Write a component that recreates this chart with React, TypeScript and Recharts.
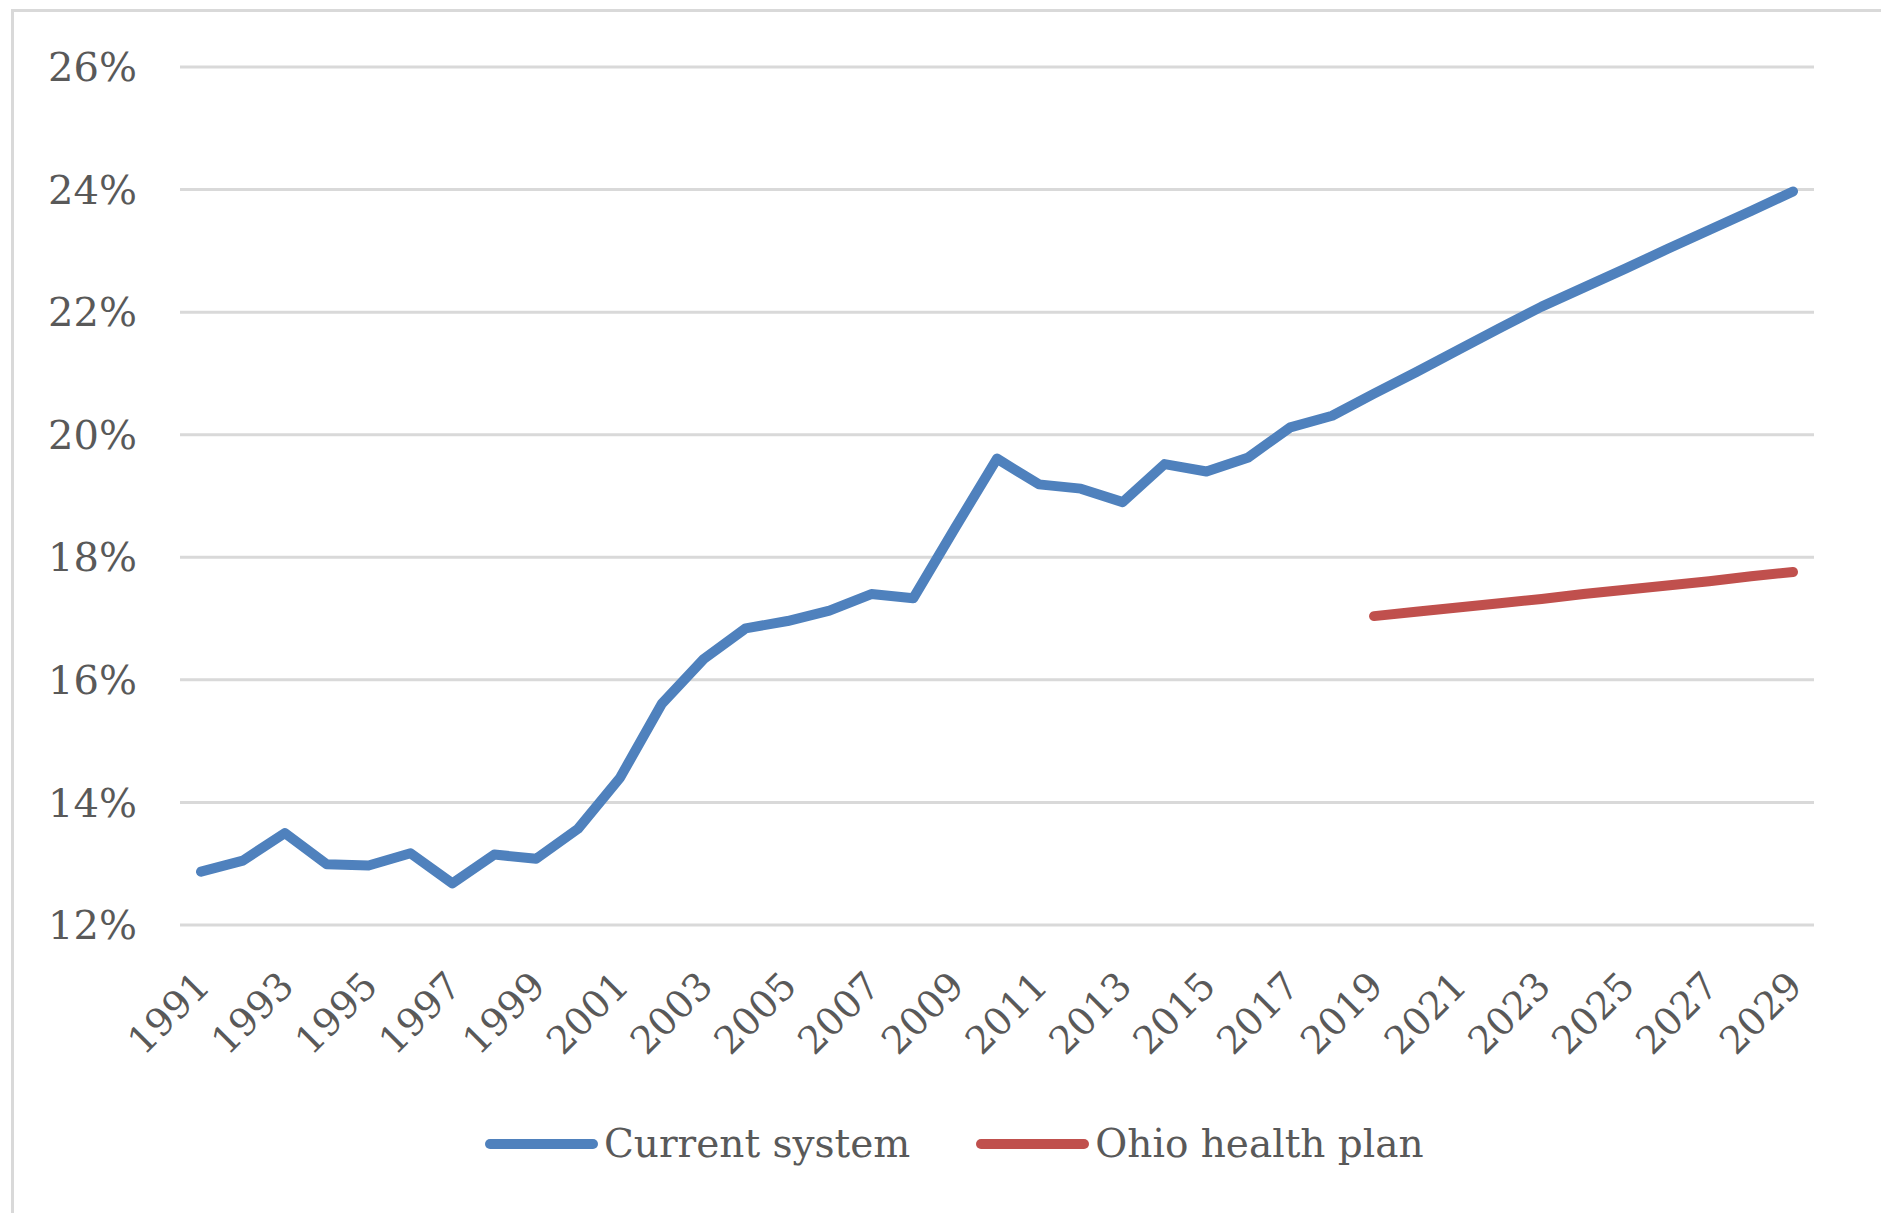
import React from "react";
import { LineChart, Line, XAxis, YAxis, CartesianGrid, Legend } from "recharts";

// Health spending share, 1991–2029
const years: string[] = [
  "1991", "1992", "1993", "1994", "1995", "1996", "1997", "1998", "1999", "2000",
  "2001", "2002", "2003", "2004", "2005", "2006", "2007", "2008", "2009", "2010",
  "2011", "2012", "2013", "2014", "2015", "2016", "2017", "2018", "2019", "2020",
  "2021", "2022", "2023", "2024", "2025", "2026", "2027", "2028", "2029",
];

const currentSystem: number[] = [
  12.87, 13.05, 13.5, 12.99, 12.97, 13.17, 12.68, 13.15, 13.08, 13.57,
  14.4, 15.61, 16.34, 16.84, 16.96, 17.13, 17.4, 17.33, 18.48, 19.61,
  19.19, 19.12, 18.9, 19.52, 19.4, 19.63, 20.12, 20.31, 20.67, 21.02,
  21.38, 21.74, 22.09, 22.4, 22.71, 23.03, 23.34, 23.65, 23.97,
];

// Plan projection starts in 2019
const ohioPlanYears: string[] = [
  "2019", "2020", "2021", "2022", "2023", "2024", "2025", "2026", "2027", "2028", "2029",
];
const ohioPlan: number[] = [
  17.04, 17.11, 17.18, 17.25, 17.32, 17.4, 17.47, 17.54, 17.61, 17.69, 17.76,
];

const yTicks: number[] = [12, 14, 16, 18, 20, 22, 24, 26];

const seriesNames = { current: "Current system", ohio: "Ohio health plan" };
const BLUE = "#4F81BD";
const RED = "#C0504D";
const TEXT = "#595959";
const GRID = "#D9D9D9";
const FONT = "'DejaVu Serif', serif";

const data = years.map((year, i) => {
  const j = ohioPlanYears.indexOf(year);
  return {
    year,
    current: currentSystem[i],
    ohio: j >= 0 ? ohioPlan[j] : null,
  };
});

const YearTick = (props: any) => {
  const { x, y, payload } = props;
  return (
    <text
      x={0}
      y={0}
      dy="0.71em"
      textAnchor="end"
      fill={TEXT}
      fontSize={38}
      fontFamily={FONT}
      transform={`translate(${x - 8},${y + 44}) rotate(-45)`}
    >
      {payload.value}
    </text>
  );
};

const LegendContent = (props: any) => {
  const { payload } = props;
  return (
    <div
      style={{
        display: "flex",
        alignItems: "center",
        paddingLeft: 485,
        height: 48,
        fontFamily: FONT,
        fontSize: 39,
        color: TEXT,
        lineHeight: "48px",
      }}
    >
      {(payload || []).map((entry: any, i: number) => (
        <div
          key={entry.value}
          style={{ display: "flex", alignItems: "center", marginLeft: i === 0 ? 0 : 66 }}
        >
          <svg width={113} height={14} style={{ display: "block" }}>
            <line
              x1={5}
              y1={7}
              x2={108}
              y2={7}
              stroke={entry.color}
              strokeWidth={10}
              strokeLinecap="round"
            />
          </svg>
          <span style={{ marginLeft: 6, whiteSpace: "nowrap" }}>{entry.value}</span>
        </div>
      ))}
    </div>
  );
};

export default function App() {
  return (
    <div
      style={{
        position: "absolute",
        left: 0,
        top: 0,
        width: 1881,
        height: 1213,
        overflow: "hidden",
        background: "#fff",
      }}
    >
      <div
        style={{
          position: "absolute",
          left: 11,
          top: 9,
          right: -20,
          bottom: -20,
          borderLeft: `3px solid ${GRID}`,
          borderTop: `3px solid ${GRID}`,
        }}
      />
      <LineChart
        width={1881}
        height={1213}
        data={data}
        margin={{ top: 67, right: 67, bottom: 138, left: 0 }}
      >
        <CartesianGrid vertical={false} stroke={GRID} strokeWidth={3} />
        <XAxis
          dataKey="year"
          type="category"
          interval={1}
          padding={{ left: 21, right: 21 }}
          axisLine={false}
          tickLine={false}
          tickSize={0}
          tickMargin={0}
          height={150}
          tick={<YearTick />}
        />
        <YAxis
          width={180}
          domain={[12, 26]}
          ticks={yTicks}
          axisLine={false}
          tickLine={false}
          tickSize={0}
          tickMargin={43}
          tickFormatter={(v: number) => `${v}%`}
          tick={{ fill: TEXT, fontSize: 40, fontFamily: FONT }}
        />
        <Line
          dataKey="current"
          name={seriesNames.current}
          stroke={BLUE}
          strokeWidth={10}
          strokeLinejoin="round"
          strokeLinecap="round"
          dot={false}
          activeDot={false}
          isAnimationActive={false}
        />
        <Line
          dataKey="ohio"
          name={seriesNames.ohio}
          stroke={RED}
          strokeWidth={10}
          strokeLinejoin="round"
          strokeLinecap="round"
          dot={false}
          activeDot={false}
          connectNulls={false}
          isAnimationActive={false}
        />
        <Legend
          layout="horizontal"
          align="center"
          verticalAlign="middle"
          content={<LegendContent />}
          wrapperStyle={{ left: 0, top: 1120, width: 1881, height: 48 }}
        />
      </LineChart>
    </div>
  );
}
